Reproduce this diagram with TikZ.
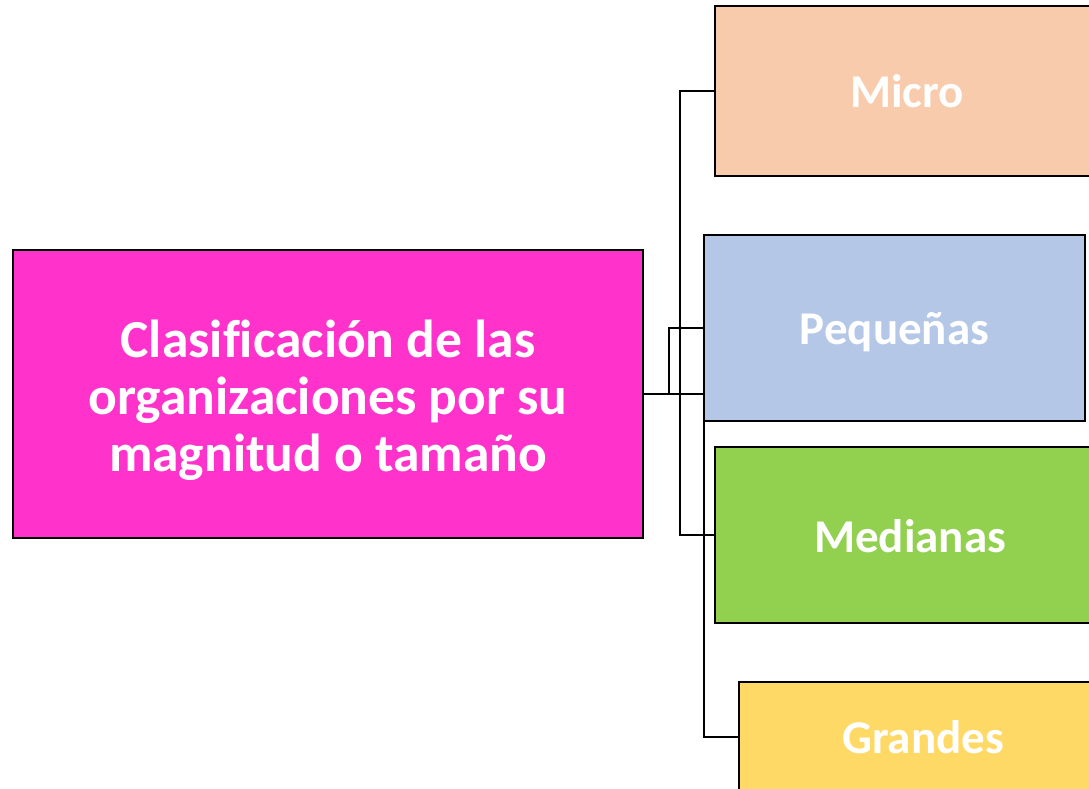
\documentclass[tikz,border=0pt]{standalone}
\usepackage{fontspec}
\setmainfont{Carlito}[Ligatures=NoCommon]
\definecolor{magbox}{HTML}{FF33CC}
\definecolor{peach}{HTML}{F8CBAD}
\definecolor{lblue}{HTML}{B4C7E7}
\definecolor{lgreen}{HTML}{92D050}
\definecolor{lyellow}{HTML}{FFD966}
\begin{document}
\begin{tikzpicture}[x=1pt,y=-1pt,
  box/.style={draw=black,line width=2.5pt,rectangle,inner sep=0pt},
  lbl/.style={text=white,inner sep=0pt,font=\fontsize{47}{57}\selectfont\bfseries,align=center},
  conn/.style={draw=black,line width=2pt}]
\useasboundingbox (0,0) rectangle (1089,788);
\clip (0,0) rectangle (1089,788);
\fill[white] (0,0) rectangle (1089,788);
\node[box,fill=magbox,minimum width=630pt,minimum height=288pt] (main) at (328,394) {};
\node[lbl,font=\fontsize{53.5}{57}\selectfont\bfseries] (maintext) at ([yshift=-6pt]main.center)
  {Clasificación de las\\organizaciones por su\\magnitud o tamaño};
\node[box,fill=peach,minimum width=384pt,minimum height=170pt] (micro) at (907,91) {};
\node[lbl] (microtext) at (micro.center) {Micro};
\node[box,fill=lblue,minimum width=381pt,minimum height=186pt] (peq) at (894.5,328) {};
\node[lbl] (peqtext) at ([yshift=-4pt]peq.center) {Pequeñas};
\node[box,fill=lgreen,minimum width=390pt,minimum height=176pt] (med) at (910,535) {};
\node[lbl] (medtext) at ([yshift=-1pt]med.center) {Medianas};
\node[box,fill=lyellow,minimum width=368pt,minimum height=110pt] (gra) at (923,737) {};
\node[lbl] (gratext) at (gra.center) {Grandes};
\draw[conn] (main.east) -- ++(36,0) |- (micro.west);
\draw[conn] (main.east) -- ++(25,0) |- (peq.west);
\draw[conn] (main.east) -- ++(36,0) |- (med.west);
\draw[conn] (main.east) -- ++(60,0) |- (gra.west);
\end{tikzpicture}
\end{document}
